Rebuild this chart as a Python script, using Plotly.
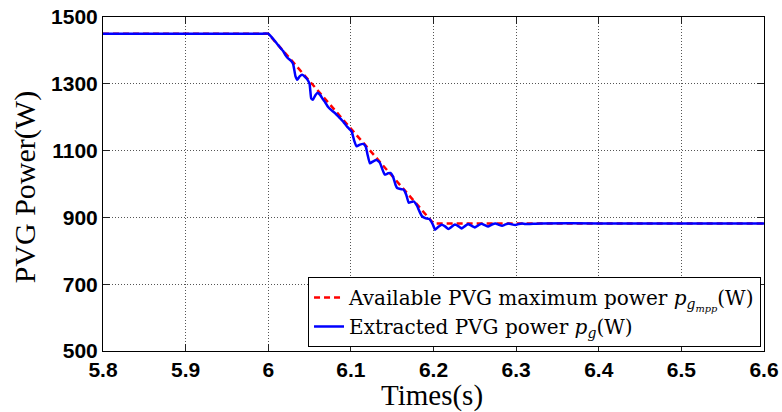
import plotly.graph_objects as go

# Available PVG maximum power (red dashed)
t_avail = [5.80, 6.00, 6.20, 6.60]
p_avail = [1450, 1450, 882, 882]

# Extracted PVG power (blue)
t_pg = [5.800, 5.850, 5.900, 5.950, 5.990, 6.000, 6.006, 6.012, 6.018, 6.021,
        6.024, 6.027, 6.030, 6.033,
        6.035, 6.038, 6.041, 6.044, 6.047, 6.050, 6.052, 6.054, 6.057, 6.060,
        6.063, 6.066, 6.069, 6.072, 6.075, 6.078, 6.081, 6.085, 6.088, 6.091,
        6.095, 6.098, 6.101, 6.104, 6.107, 6.111, 6.115, 6.118, 6.120, 6.123,
        6.127, 6.131, 6.135, 6.138, 6.141, 6.145, 6.148, 6.151, 6.154, 6.156,
        6.160, 6.164, 6.167, 6.170, 6.173, 6.176, 6.180, 6.183, 6.186, 6.190,
        6.195, 6.199, 6.202, 6.206, 6.210, 6.214, 6.218, 6.222, 6.226, 6.230,
        6.234, 6.238, 6.242, 6.246, 6.250, 6.254, 6.258, 6.262, 6.266, 6.270,
        6.275, 6.279, 6.283, 6.287, 6.291, 6.295, 6.299, 6.303, 6.307, 6.311,
        6.315, 6.330, 6.400, 6.500, 6.600]
p_pg = [1450, 1450, 1450, 1450, 1450, 1450, 1434, 1416, 1398, 1385,
        1376, 1370, 1360, 1322,
        1312, 1322, 1327, 1322, 1314, 1300, 1256, 1252, 1266, 1273,
        1266, 1254, 1244, 1232, 1224, 1218, 1212, 1202, 1194, 1186,
        1173, 1165, 1157, 1130, 1113, 1118, 1120, 1112, 1090, 1062,
        1068, 1072, 1064, 1045, 1028, 1032, 1033, 1022, 998, 988,
        985, 983, 968, 944, 946, 948, 935, 918, 904, 898,
        895, 880, 863, 872, 878, 873, 865, 872, 879, 874,
        867, 874, 880, 875, 870, 876, 881, 877, 873, 878,
        882, 878, 875, 879, 882, 879, 877, 880, 882, 880,
        880, 882, 882, 882, 882]

x_ticks = [5.8, 5.9, 6.0, 6.1, 6.2, 6.3, 6.4, 6.5, 6.6]
x_tick_text = ["5.8", "5.9", "6", "6.1", "6.2", "6.3", "6.4", "6.5", "6.6"]
y_ticks = [500, 700, 900, 1100, 1300, 1500]
x_title = "Times(s)"
y_title = "PVG Power(W)"

fig = go.Figure()
fig.add_trace(go.Scatter(
    x=t_avail, y=p_avail, mode="lines",
    line=dict(color="#ff0000", width=2.5, dash="6px,4px"),
    name="Available PVG maximum power <i>p</i><sub><i>g</i><sub><i>mpp</i></sub></sub>(W)"))
fig.add_trace(go.Scatter(
    x=t_pg, y=p_pg, mode="lines",
    line=dict(color="#0000ff", width=2.5, shape="spline", smoothing=0.4),
    name="Extracted PVG power <i>p</i><sub><i>g</i></sub>(W)"))

axis_common = dict(
    showline=True, linecolor="black", linewidth=1, mirror="ticks",
    ticks="inside", ticklen=7, tickcolor="#222", tickwidth=1,
    showgrid=True, gridcolor="#555555", griddash="1px,2px", gridwidth=1,
    zeroline=False, automargin=False,
    tickfont=dict(family="Liberation Sans", size=21, color="black", weight="bold"),
)

fig.update_xaxes(range=[5.8, 6.6], tickvals=x_ticks, ticktext=x_tick_text,
                 ticklabelstandoff=0, **axis_common)
fig.update_yaxes(range=[500, 1500], tickvals=y_ticks, **axis_common)

title_font = dict(family="Liberation Serif", size=29, color="black")
fig.add_annotation(text=x_title, xref="paper", yref="paper", x=0.497, y=-0.133,
                   xanchor="center", yanchor="middle", showarrow=False, font=title_font)
fig.add_annotation(text=y_title, xref="paper", yref="paper", x=-0.118, y=0.49,
                   xanchor="center", yanchor="middle", showarrow=False,
                   textangle=-90, font=dict(family="Liberation Serif", size=30, color="black"))

fig.update_layout(
    width=782, height=412,
    margin=dict(l=103, r=18, t=17, b=61),
    paper_bgcolor="white", plot_bgcolor="white",
    showlegend=True,
    legend=dict(x=0.9955, y=0.012, xanchor="right", yanchor="bottom",
                bgcolor="white", bordercolor="black", borderwidth=1,
                font=dict(family="DejaVu Serif", size=20, color="black"),
                itemwidth=30, tracegroupgap=0),
)

fig.write_html("out.html", config={"displayModeBar": False},
               post_script="document.body.style.margin='0';document.body.style.overflow='hidden';")
